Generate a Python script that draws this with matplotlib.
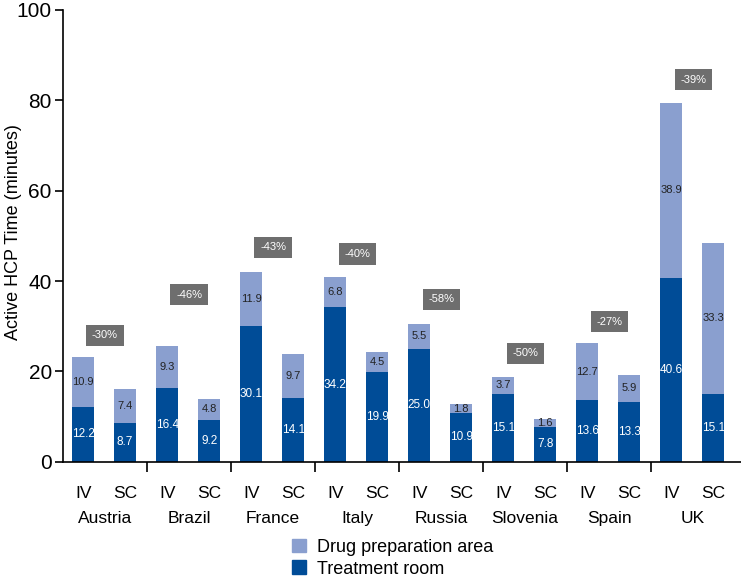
import matplotlib.pyplot as plt
import numpy as np
from matplotlib.patches import Patch

plt.rcParams['font.family'] = ['Liberation Sans', 'DejaVu Sans']

countries = ['Austria', 'Brazil', 'France', 'Italy', 'Russia', 'Slovenia', 'Spain', 'UK']
treat_iv = [12.2, 16.4, 30.1, 34.2, 25.0, 15.1, 13.6, 40.6]
drug_iv = [10.9, 9.3, 11.9, 6.8, 5.5, 3.7, 12.7, 38.9]
treat_sc = [8.7, 9.2, 14.1, 19.9, 10.9, 7.8, 13.3, 15.1]
drug_sc = [7.4, 4.8, 9.7, 4.5, 1.8, 1.6, 5.9, 33.3]
reductions = ['-30%', '-46%', '-43%', '-40%', '-58%', '-50%', '-27%', '-39%']
box_y = [28, 37, 47.5, 46, 36, 24, 31, 84.5]

light = '#8a9fcf'
dark = '#004c97'

fig = plt.figure(figsize=(7.41, 5.81), dpi=100)
ax = fig.add_axes([0.085, 0.205, 0.915, 0.778])

g = np.arange(len(countries))
iv_x = g + 0.24
sc_x = g + 0.74
w = 0.26

for xs, tr, dr in [(iv_x, treat_iv, drug_iv), (sc_x, treat_sc, drug_sc)]:
    ax.bar(xs, tr, w, color=dark, zorder=2)
    ax.bar(xs, dr, w, bottom=tr, color=light, zorder=2)
    for x, t, d in zip(xs, tr, dr):
        ax.text(x, t / 2, f'{t:.1f}', ha='center', va='center', color='white', fontsize=8.5)
        ax.text(x, t + d / 2, f'{d:.1f}', ha='center', va='center', color='#222222', fontsize=8)

# percentage reduction boxes
for i, (r, y) in enumerate(zip(reductions, box_y)):
    ax.text(g[i] + 0.5, y, r, ha='center', va='center', color='white', fontsize=8,
            bbox=dict(boxstyle='square,pad=0.5', fc='#6e6e6e', ec='none'))

ax.set_xlim(0, 8.07)
ax.set_ylim(0, 100)
ax.set_yticks([0, 20, 40, 60, 80, 100])
ax.tick_params(axis='y', labelsize=15, length=6, width=1.2, direction='out', pad=2)
fig.text(0.018, 0.6, 'Active HCP Time (minutes)', rotation=90, ha='center', va='center', fontsize=13)

# group separators as x ticks, labels drawn manually
ax.set_xticks(np.arange(1, 8))
ax.set_xticklabels([])
ax.tick_params(axis='x', length=7, width=1.2, direction='out')
for i, c in enumerate(countries):
    ax.text(iv_x[i], -7, 'IV', ha='center', va='center', fontsize=12.5, clip_on=False)
    ax.text(sc_x[i], -7, 'SC', ha='center', va='center', fontsize=12.5, clip_on=False)
    ax.text(g[i] + 0.5, -12.5, c, ha='center', va='center', fontsize=12.5, clip_on=False)

for s in ['top', 'right']:
    ax.spines[s].set_visible(False)
for s in ['left', 'bottom']:
    ax.spines[s].set_linewidth(1.2)

handles = [Patch(color=light, label='Drug preparation area'),
           Patch(color=dark, label='Treatment room')]
fig.legend(handles=handles, loc='lower center', bbox_to_anchor=(0.53, -0.022), frameon=False,
           fontsize=13, handlelength=0.8, handleheight=0.8, handletextpad=0.6, labelspacing=0.25)

fig.savefig('out.png', dpi=100)
